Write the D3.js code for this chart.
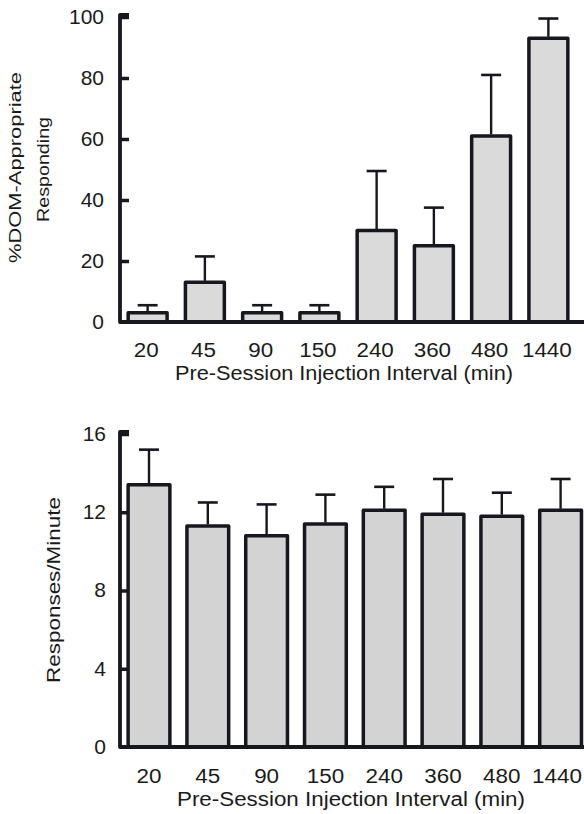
<!DOCTYPE html>
<html>
<head>
<meta charset="utf-8">
<script src="https://cdn.jsdelivr.net/npm/d3@7"></script>
<style>
  html, body { margin: 0; padding: 0; background: #fff; overflow: hidden; }
  svg { display: block; }
  text { font-family: "Liberation Sans", Arial, Helvetica, sans-serif; fill: #1a1a1a; }
</style>
</head>
<body>
<script>
// Pre-session injection intervals (min)
const intervals = ["20", "45", "90", "150", "240", "360", "480", "1440"];

// Panel A: % DOM-appropriate responding (mean and SEM)
const domMean = [3, 13, 3, 3, 30, 25, 61, 93];
const domSem  = [2.5, 8.5, 2.5, 2.5, 19.5, 12.5, 20, 6.5];
const domTicks = [0, 20, 40, 60, 80, 100];

// Panel B: response rate (responses/minute, mean and SEM)
const rateMean = [13.4, 11.3, 10.8, 11.4, 12.1, 11.9, 11.8, 12.1];
const rateSem  = [1.8, 1.2, 1.6, 1.5, 1.2, 1.8, 1.2, 1.6];
const rateTicks = [0, 4, 8, 12, 16];

const xTitle = "Pre-Session Injection Interval (min)";

const W = 584, H = 814;
const ink = "#17171f";
const labelStretch = 1.15;

const svg = d3.select("body").append("svg")
  .attr("width", W).attr("height", H);

function panel(opts) {
  const g = svg.append("g");
  const x = d3.scaleBand().domain(intervals)
    .range(opts.xRange).paddingInner(opts.padIn).paddingOuter(opts.padIn / 2);
  const y = d3.scaleLinear().domain(opts.yDomain).range(opts.yRange);
  const axisX = opts.axisX;
  const y0 = y(0);

  // bars
  g.selectAll("rect.bar").data(intervals).join("rect")
    .attr("class", "bar")
    .attr("x", d => x(d))
    .attr("width", x.bandwidth())
    .attr("y", (d, i) => y(opts.mean[i]))
    .attr("height", (d, i) => y0 - y(opts.mean[i]))
    .attr("fill", opts.fill)
    .attr("stroke", ink)
    .attr("stroke-width", 3.5)
    .attr("stroke-linejoin", "round");

  // error bars (upper SEM)
  const eb = g.selectAll("g.err").data(intervals).join("g")
    .attr("class", "err")
    .attr("transform", d => `translate(${x(d) + x.bandwidth() / 2},0)`);
  eb.append("line")
    .attr("y1", (d, i) => y(opts.mean[i]) - 1.5)
    .attr("y2", (d, i) => y(opts.mean[i] + opts.sem[i]))
    .attr("stroke", ink).attr("stroke-width", 2.4);
  eb.append("line")
    .attr("x1", -10).attr("x2", 10)
    .attr("y1", (d, i) => y(opts.mean[i] + opts.sem[i]))
    .attr("y2", (d, i) => y(opts.mean[i] + opts.sem[i]))
    .attr("stroke", ink).attr("stroke-width", 2.6);

  // y axis with inward ticks
  const yAxis = d3.axisLeft(y).tickValues(opts.yTicks)
    .tickSize(-9).tickPadding(opts.tickPad).tickSizeOuter(0);
  const ya = g.append("g").attr("transform", `translate(${axisX},0)`).call(yAxis);
  ya.select(".domain").remove();
  ya.selectAll(".tick line").attr("stroke", ink).attr("stroke-width", 3.5)
    .filter(d => d === 0).remove();
  ya.selectAll(".tick text")
    .attr("font-size", 20).attr("fill", "#1a1a1a")
    .attr("font-family", "Liberation Sans, Arial, sans-serif")
    .attr("transform", "scale(1.05,1)")
    .attr("x", -opts.tickPad / 1.05);

  // axis lines
  const topY = y(opts.yDomain[1]) - 2;
  g.append("path")
    .attr("d", `M${axisX + 9},${topY} L${axisX},${topY} L${axisX},${y0} L${W + 4},${y0}`)
    .attr("fill", "none").attr("stroke", ink).attr("stroke-width", 3.8)
    .attr("stroke-linejoin", "round");

  // x tick labels, kept inside the right edge of the page
  const xa = g.append("g").attr("transform", `translate(0,${opts.labelY})`);
  xa.selectAll("text").data(intervals).join("text")
    .attr("text-anchor", "middle")
    .attr("font-size", 19.5)
    .text(d => d)
    .attr("transform", function (d) {
      const half = this.getComputedTextLength() * labelStretch / 2;
      let cx = x(d) + x.bandwidth() / 2 + opts.labelShift;
      cx = Math.min(cx, W - 2 - half);
      return `translate(${cx},0) scale(${labelStretch},1)`;
    });

  // x title
  g.append("text")
    .attr("x", opts.titleX).attr("y", opts.titleY)
    .attr("text-anchor", "middle")
    .attr("font-size", 19.5)
    .attr("textLength", opts.titleLen)
    .attr("lengthAdjust", "spacingAndGlyphs")
    .text(xTitle);

  // y title lines
  opts.yTitle.forEach(t => {
    g.append("text")
      .attr("transform", `translate(${t.x},${t.cy}) rotate(-90)`)
      .attr("text-anchor", "middle")
      .attr("font-size", t.size)
      .attr("textLength", t.len)
      .attr("lengthAdjust", "spacingAndGlyphs")
      .text(t.text);
  });
}

panel({
  mean: domMean, sem: domSem, yTicks: domTicks,
  xRange: [119, 577], padIn: 0.32,
  yDomain: [0, 100], yRange: [322, 17],
  axisX: 120, tickPad: 16, fill: "#dadada",
  labelY: 357, labelShift: -1.5, titleX: 344, titleY: 380, titleLen: 338,
  yTitle: [
    { text: "%DOM-Appropriate", x: 21, cy: 167.5, size: 16.5, len: 191 },
    { text: "Responding", x: 48.5, cy: 169.5, size: 16.5, len: 105 }
  ]
});

panel({
  mean: rateMean, sem: rateSem, yTicks: rateTicks,
  xRange: [119.6, 590], padIn: 0.29,
  yDomain: [0, 16], yRange: [747, 434],
  axisX: 120, tickPad: 14, fill: "#d3d3d3",
  labelY: 783, labelShift: 0, titleX: 351, titleY: 806, titleLen: 348,
  yTitle: [
    { text: "Responses/Minute", x: 60, cy: 590, size: 18, len: 186 }
  ]
});
</script>
</body>
</html>
